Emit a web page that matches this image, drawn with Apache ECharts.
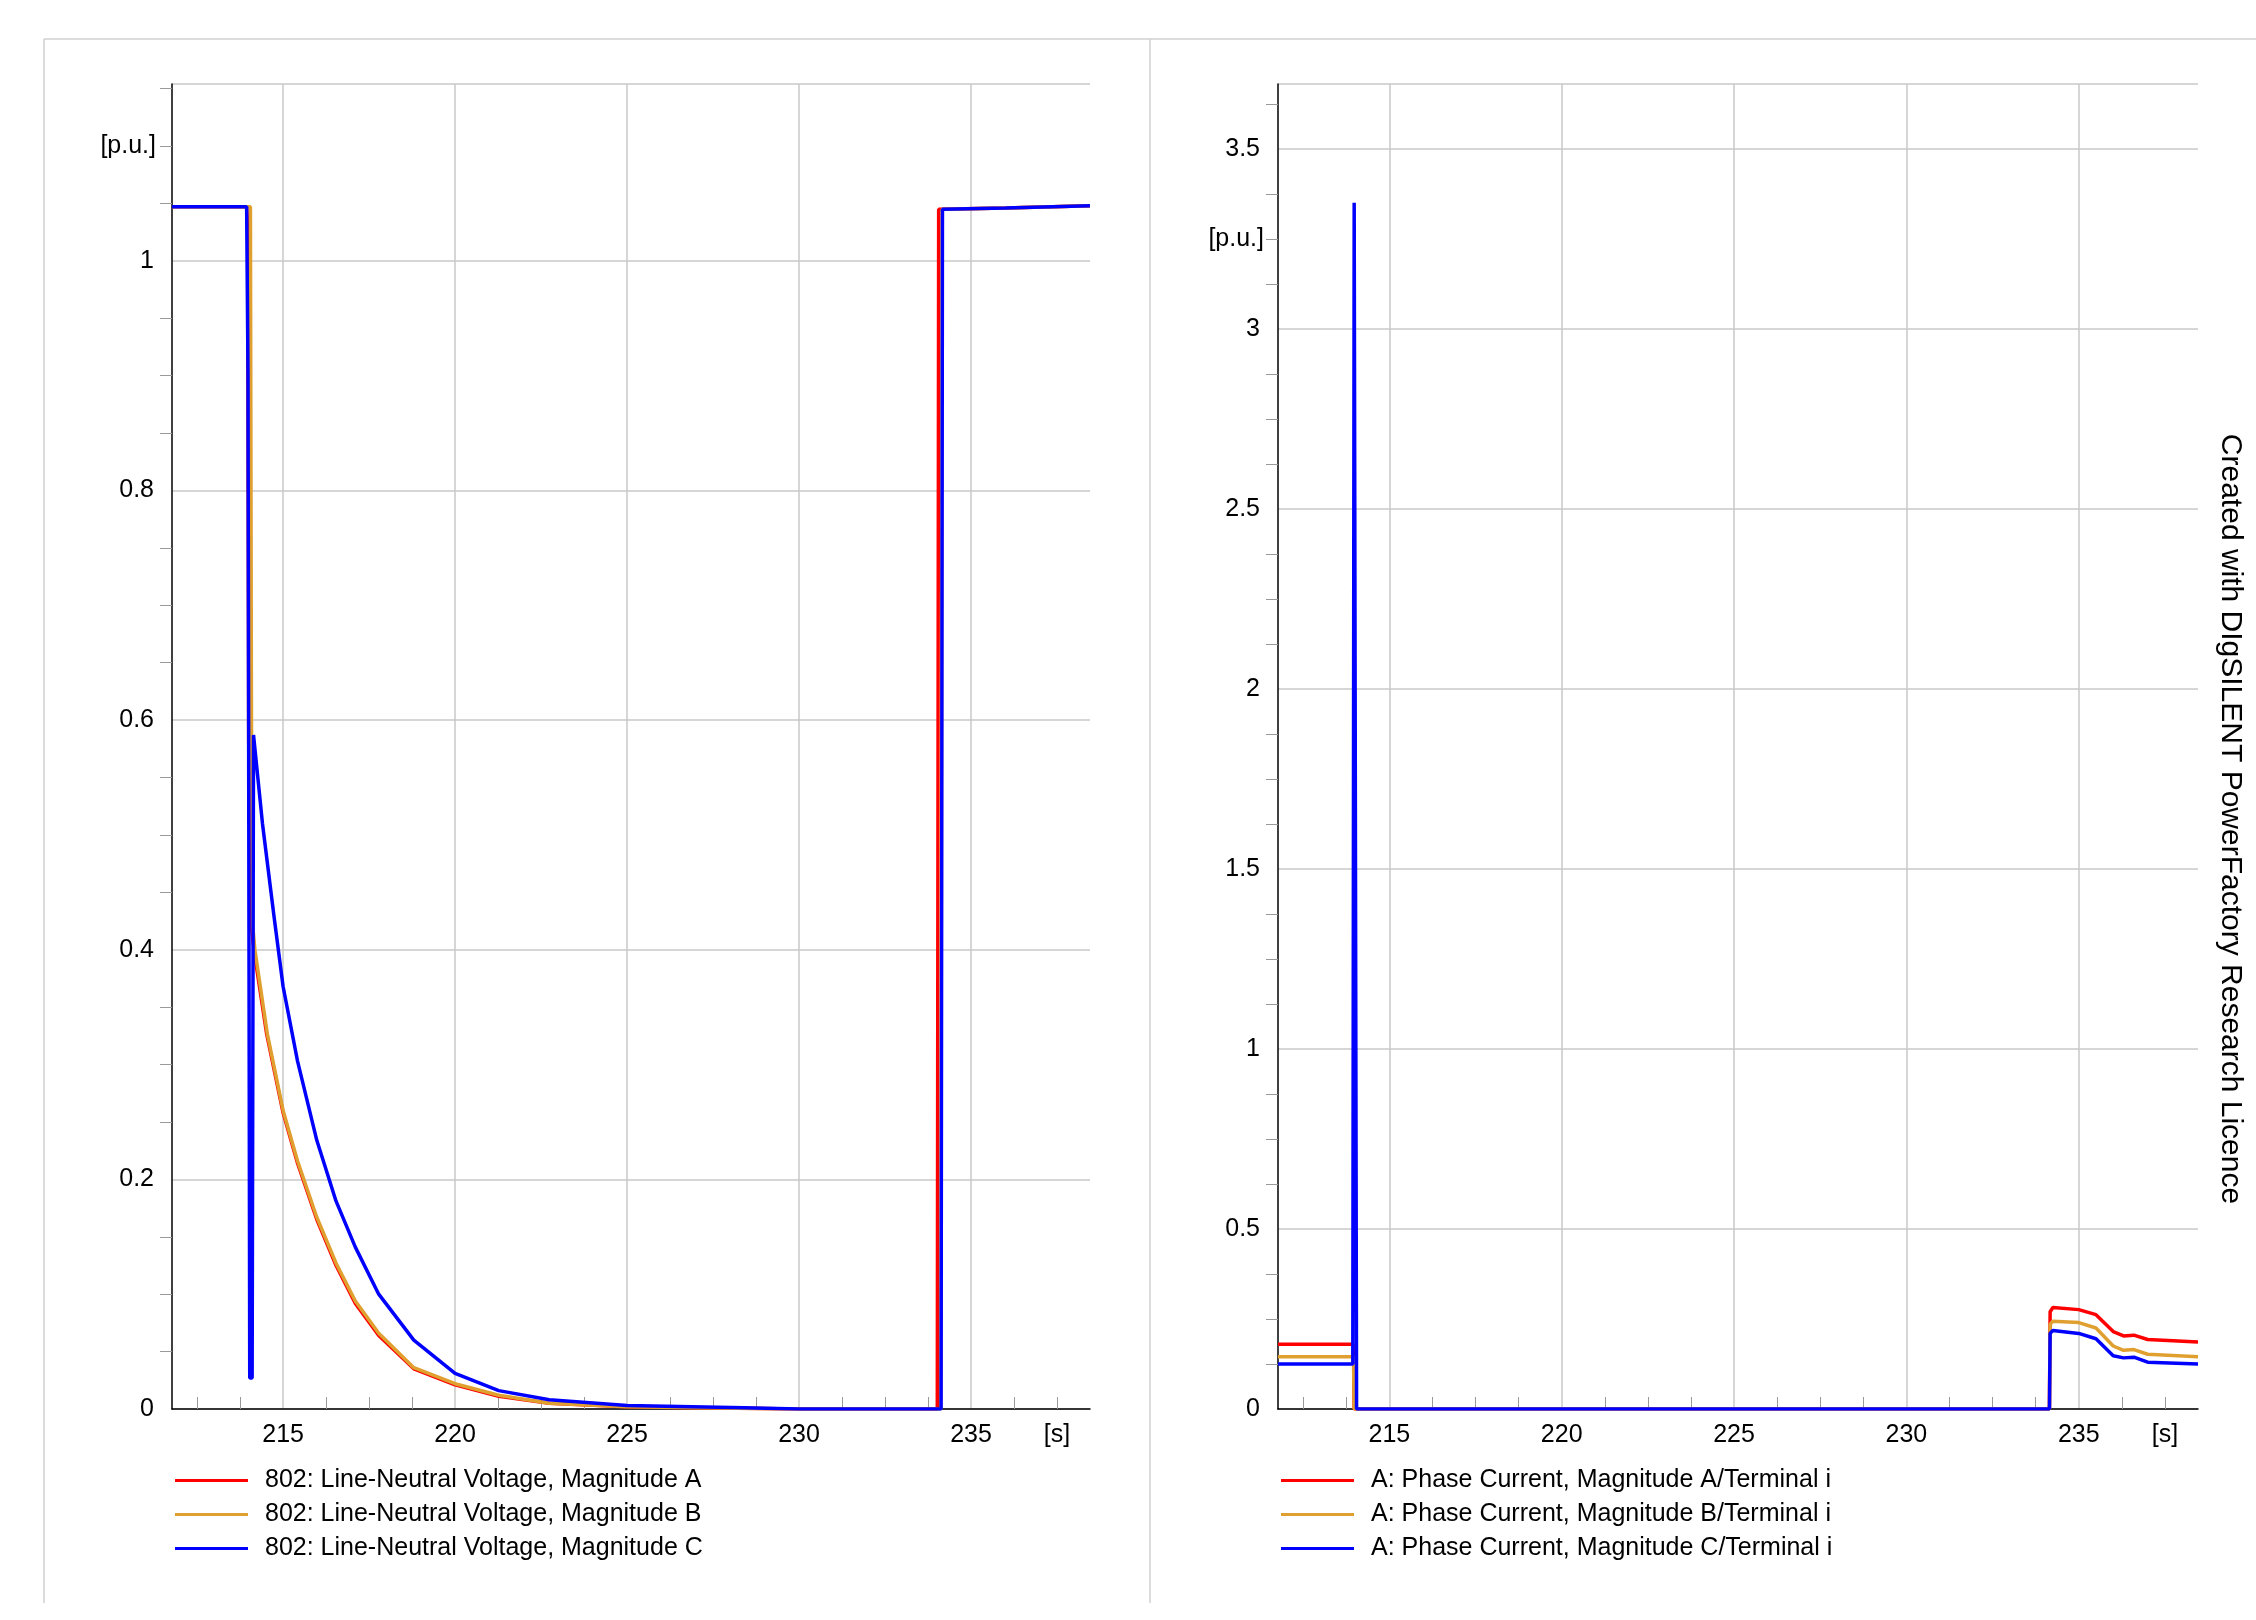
<!DOCTYPE html>
<html>
<head>
<meta charset="utf-8">
<script src="https://cdn.jsdelivr.net/npm/echarts@6/dist/echarts.min.js"></script>
<style>html,body{margin:0;padding:0;background:#fff}#main{width:2256px;height:1620px}</style>
</head>
<body>
<div id="main"></div>
<script>
// 数据 —— 左图：电压
const voltA = [[211.77,1.047],[213.94,1.047],[213.97,1.03],[214.0,0.58],[214.08,0.42],[214.15,0.40],[214.52,0.327],[215,0.258],[215.42,0.214],[215.98,0.165],[216.54,0.125],[217.1,0.092],[217.78,0.064],[218.8,0.035],[220,0.021],[221.27,0.011],[222.74,0.005],[225,0.002],[227,0.001],[230,0],[234.02,0],[234.06,1.045],[236,1.046],[238.46,1.048]];
const voltB = [[211.77,1.047],[214.05,1.047],[214.08,0.6],[214.12,0.42],[214.18,0.40],[214.54,0.327],[215,0.26],[215.42,0.216],[215.98,0.167],[216.54,0.127],[217.1,0.094],[217.78,0.066],[218.8,0.036],[220,0.022],[221.27,0.012],[222.74,0.005],[225,0.002],[227,0.001],[230,0],[234.12,0],[234.16,1.045],[236,1.046],[238.46,1.048]];
const voltC = [[211.77,1.047],[213.94,1.047],[213.98,0.9],[214.03,0.027],[214.1,0.027],[214.14,0.587],[214.4,0.51],[214.74,0.428],[215,0.368],[215.42,0.303],[215.98,0.234],[216.54,0.181],[217.1,0.141],[217.78,0.10],[218.8,0.06],[220,0.031],[221.27,0.016],[222.74,0.008],[225,0.003],[228.4,0.001],[230,0],[234.13,0],[234.17,1.045],[236,1.046],[238.46,1.048]];
// 右图：电流
const curA = [[211.77,0.18],[213.96,0.18],[213.98,0],[234.15,0],[234.17,0.27],[234.25,0.282],[235,0.276],[235.5,0.262],[236,0.215],[236.3,0.203],[236.6,0.205],[237,0.193],[238.46,0.186]];
const curB = [[211.77,0.145],[213.96,0.145],[213.98,0],[234.15,0],[234.17,0.235],[234.25,0.244],[235,0.24],[235.5,0.225],[236,0.175],[236.3,0.163],[236.6,0.165],[237,0.152],[238.46,0.145]];
const curC = [[211.77,0.125],[213.94,0.125],[213.98,3.35],[214.05,0],[234.15,0],[234.17,0.21],[234.25,0.218],[235,0.21],[235.5,0.195],[236,0.148],[236.3,0.142],[236.6,0.144],[237,0.13],[238.46,0.125]];

const xMajor = [215,220,225,230,235];
const xLabels = [215,220,225,230,235,237.5];
const xMinor = [212.5,213.75,216.25,217.5,218.75,221.25,222.5,223.75,226.25,227.5,228.75,231.25,232.5,233.75,236.25,237.5];

const namesV = ['802: Line-Neutral Voltage, Magnitude A','802: Line-Neutral Voltage, Magnitude B','802: Line-Neutral Voltage, Magnitude C'];
const namesI = ['A: Phase Current, Magnitude A/Terminal i','A: Phase Current, Magnitude B/Terminal i','A: Phase Current, Magnitude C/Terminal i'];
const colors = ['#ff0000','#e0a030','#0000ff'];

const FONT = 'Liberation Sans, Arial, sans-serif';
const chart = echarts.init(document.getElementById('main'));

function xAxes(gi) {
    return [{
        type:'value', gridIndex:gi, min:211.77, max:238.46, position:'bottom',
        axisLine:{lineStyle:{color:'#000',width:1.5}},
        axisTick:{show:false, customValues:xMajor},
        axisLabel:{customValues:xLabels, fontSize:25, color:'#000', fontFamily:FONT, margin:14,
            formatter:v => v > 236 ? '[s]' : String(v)},
        splitLine:{show:true, lineStyle:{color:'#c8c8c8',width:1.5}}
    },{
        type:'value', gridIndex:gi, min:211.77, max:238.46, position:'bottom',
        axisLine:{show:false}, axisLabel:{show:false}, splitLine:{show:false},
        axisTick:{show:true, inside:true, length:12, customValues:xMinor, lineStyle:{color:'#999'}}
    }];
}
function yAxis(gi, max, interval) {
    return {
        type:'value', gridIndex:gi, min:0, max:max, interval:interval,
        axisLine:{show:true, lineStyle:{color:'#000',width:1.5}},
        axisTick:{show:false},
        minorTick:{show:true, splitNumber:4, length:12, lineStyle:{color:'#999'}},
        axisLabel:{fontSize:25, color:'#000', fontFamily:FONT, margin:18, showMaxLabel:false},
        splitLine:{show:true, lineStyle:{color:'#c8c8c8',width:1.5}}
    };
}
function ser(name, data, i, axisIdx) {
    return {name:name, type:'line', data:data, xAxisIndex:axisIdx, yAxisIndex:axisIdx/2,
        showSymbol:false, symbol:'none', animation:false,
        lineStyle:{color:colors[i], width:3.5}, itemStyle:{color:colors[i]}};
}
function legend(left, names) {
    return {left:left, top:1463, orient:'vertical', data:names, icon:'rect', itemWidth:73, itemHeight:3,
        itemGap:9, selectedMode:false,
        textStyle:{fontSize:25, color:'#000', fontFamily:FONT, padding:[0,0,0,12]}};
}

chart.setOption({
    backgroundColor:'#fff',
    grid:[{left:172, top:84, width:918, height:1325},{left:1278, top:84, width:920, height:1325}],
    xAxis:[...xAxes(0), ...xAxes(1)],
    yAxis:[yAxis(0,1.154,0.2), yAxis(1,3.68,0.5)],
    legend:[legend(170,namesV), legend(1276,namesI)],
    series:[
        ser(namesV[0],voltA,0,0), ser(namesV[1],voltB,1,0), ser(namesV[2],voltC,2,0),
        ser(namesI[0],curA,0,2), ser(namesI[1],curB,1,2), ser(namesI[2],curC,2,2)
    ]
});

// 单位标签和边框
const pL = chart.convertToPixel({yAxisIndex:0}, 1.1);
const pR = chart.convertToPixel({yAxisIndex:1}, 3.25);
chart.setOption({
    graphic:[
        {type:'line', shape:{x1:44,y1:39,x2:2256,y2:39}, style:{stroke:'#d0d0d0',lineWidth:1.5}},
        {type:'line', shape:{x1:44,y1:39,x2:44,y2:1603}, style:{stroke:'#d0d0d0',lineWidth:1.5}},
        {type:'line', shape:{x1:1150,y1:39,x2:1150,y2:1603}, style:{stroke:'#d0d0d0',lineWidth:1.5}},
        {type:'text', x:156, y:pL, style:{text:'[p.u.]', fontSize:25, fontFamily:FONT, fill:'#000', align:'right', verticalAlign:'middle'}},
        {type:'text', x:1264, y:pR, style:{text:'[p.u.]', fontSize:25, fontFamily:FONT, fill:'#000', align:'right', verticalAlign:'middle'}},
        {type:'text', x:2230, y:819, rotation:-Math.PI/2, style:{text:'Created with DIgSILENT PowerFactory Research Licence', fontSize:30, fontFamily:FONT, fill:'#000', align:'center', verticalAlign:'middle'}}
    ]
});
</script>
</body>
</html>
